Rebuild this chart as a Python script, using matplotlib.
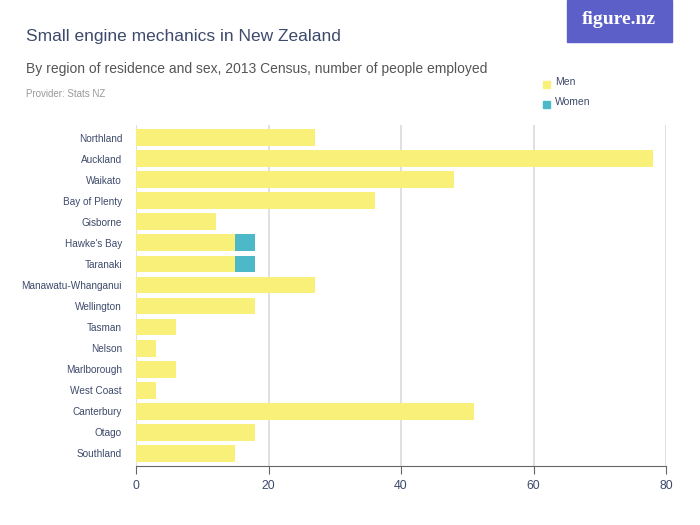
import numpy as np
import matplotlib.pyplot as plt
from matplotlib.patches import Rectangle

regions = ["Northland", "Auckland", "Waikato", "Bay of Plenty", "Gisborne",
           "Hawke's Bay", "Taranaki", "Manawatu-Whanganui", "Wellington",
           "Tasman", "Nelson", "Marlborough", "West Coast", "Canterbury",
           "Otago", "Southland"]
men = [27, 78, 48, 36, 12, 15, 15, 27, 18, 6, 3, 6, 3, 51, 18, 15]
women = [0, 0, 0, 0, 0, 3, 3, 0, 0, 0, 0, 0, 0, 0, 0, 0]
xticks = [0, 20, 40, 60, 80]

men_col = '#F9F07A'
women_col = '#4DB8C8'
dark = '#3D4A6B'

plt.rcParams['font.family'] = ['Liberation Sans', 'DejaVu Sans']

fig = plt.figure(figsize=(7, 5.25), dpi=100)
ax = fig.add_axes([136/700, 1 - 466/525, 530/700, 341/525])

y = np.arange(len(regions))
ax.barh(y, men, height=0.8, color=men_col, zorder=3)
ax.barh(y, women, left=men, height=0.8, color=women_col, zorder=3)

ax.set_xlim(0, 80)
ax.set_ylim(len(regions) - 0.4, -0.6)
ax.set_xticks(xticks)
ax.set_yticks(y)
ax.set_yticklabels(regions)
ax.grid(axis='x', color='#DDDDDD', linewidth=1.3, zorder=0)
for s in ['top', 'right', 'left']:
    ax.spines[s].set_visible(False)
ax.spines['bottom'].set_color('#666666')
ax.tick_params(axis='y', length=0, pad=10, labelsize=7.2, labelcolor=dark)
ax.tick_params(axis='x', length=6, color='#666666', labelsize=8.8, labelcolor=dark, pad=4)

fig.text(26/700, 1 - 36/525, "Small engine mechanics in New Zealand",
         fontsize=12.5, color=dark, va='center')
fig.text(26/700, 1 - 69/525, "By region of residence and sex, 2013 Census, number of people employed",
         fontsize=10, color='#555555', va='center')
fig.text(26/700, 1 - 94/525, "Provider: Stats NZ", fontsize=7, color='#999999', va='center')

# logo
fig.patches.append(Rectangle((567/700, 1 - 42/525), 105/700, 42/525,
                             transform=fig.transFigure, color='#5B5FC7', zorder=1))
fig.text(619/700, 1 - 20/525, "figure.nz", fontsize=14, color='white', weight='bold',
         ha='center', va='center', family=['Liberation Serif', 'DejaVu Serif'], zorder=2)

# legend
for i, (lab, c) in enumerate([("Men", men_col), ("Women", women_col)]):
    yy = 1 - (84 + i * 20) / 525
    fig.patches.append(Rectangle((543/700, yy - 4/525), 7/700, 7/525,
                                 transform=fig.transFigure, color=c))
    fig.text(555/700, yy + 2/525, lab, fontsize=7.5, color=dark, va='center')

fig.savefig('out.png', dpi=100)
